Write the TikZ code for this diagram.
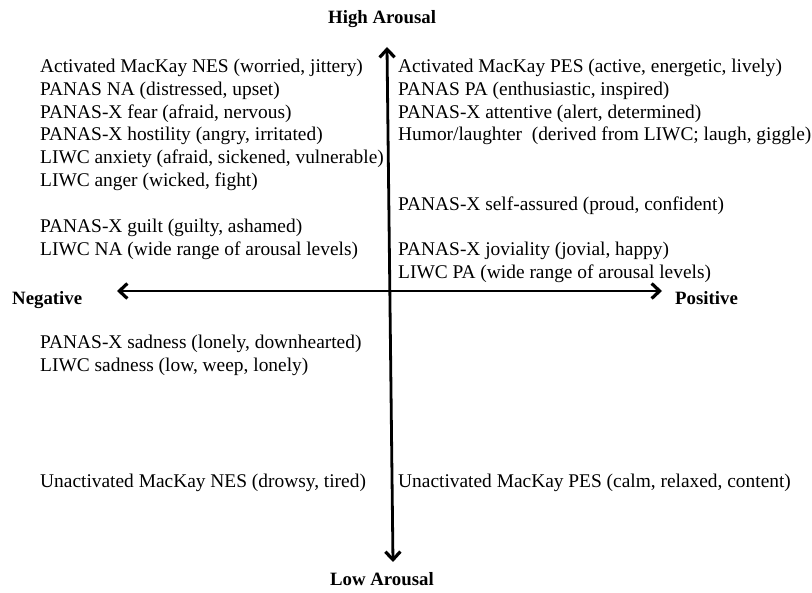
\documentclass[tikz,border=0pt]{standalone}
\usepackage{fontspec}
\setmainfont{Liberation Serif}
\usetikzlibrary{arrows.meta}
\begin{document}
\begin{tikzpicture}[x=1pt,y=-1pt,
  txt/.style={anchor=base west, inner sep=0pt, font=\fontsize{19.4}{23}\selectfont},
  lbl/.style={anchor=base west, inner sep=0pt, font=\fontsize{18.8}{23}\selectfont\bfseries},
  tip/.tip={Straight Barb[length=8pt,width=15pt,line width=3.2pt]},
  axis/.style={line width=2.8pt, tip-tip}]
\useasboundingbox (0,0) rectangle (812,593);
% axes
\coordinate (top) at (387,47);
\coordinate (bot) at (393,562);
\coordinate (lft) at (117,291);
\coordinate (rgt) at (662,291);
\draw[axis] (bot) -- (top);
\draw[axis] (lft) -- (rgt);
% axis labels
\node[lbl] (high) at (328,24) {High Arousal};
\node[lbl] (low) at (330,586) {Low Arousal};
\node[lbl] (neg) at (12,305) {Negative};
\node[lbl] (pos) at (675,305) {Positive};
% left column
\node[txt] (l1) at (40,73) {Activated MacKay NES (worried, jittery)};
\node[txt] (l2) at (40,96) {PANAS NA (distressed, upset)};
\node[txt] (l3) at (40,119) {PANAS-X fear (afraid, nervous)};
\node[txt] (l4) at (40,141) {PANAS-X hostility (angry, irritated)};
\node[txt] (l5) at (40,164) {LIWC anxiety (afraid, sickened, vulnerable)};
\node[txt] (l6) at (40,187) {LIWC anger (wicked, fight)};
\node[txt] (l7) at (40,233) {PANAS-X guilt (guilty, ashamed)};
\node[txt] (l8) at (40,256) {LIWC NA (wide range of arousal levels)};
\node[txt] (l9) at (40,349) {PANAS-X sadness (lonely, downhearted)};
\node[txt] (l10) at (40,372) {LIWC sadness (low, weep, lonely)};
\node[txt] (l11) at (40,488) {Unactivated MacKay NES (drowsy, tired)};
% right column
\node[txt] (r1) at (398,73) {Activated MacKay PES (active, energetic, lively)};
\node[txt] (r2) at (398,96) {PANAS PA (enthusiastic, inspired)};
\node[txt] (r3) at (398,119) {PANAS-X attentive (alert, determined)};
\node[txt] (r4) at (398,141) {Humor/laughter\ \ (derived from LIWC; laugh, giggle)};
\node[txt] (r5) at (398,211) {PANAS-X self-assured (proud, confident)};
\node[txt] (r6) at (398,256) {PANAS-X joviality (jovial, happy)};
\node[txt] (r7) at (398,279) {LIWC PA (wide range of arousal levels)};
\node[txt] (r8) at (398,488) {Unactivated MacKay PES (calm, relaxed, content)};
\end{tikzpicture}
\end{document}
